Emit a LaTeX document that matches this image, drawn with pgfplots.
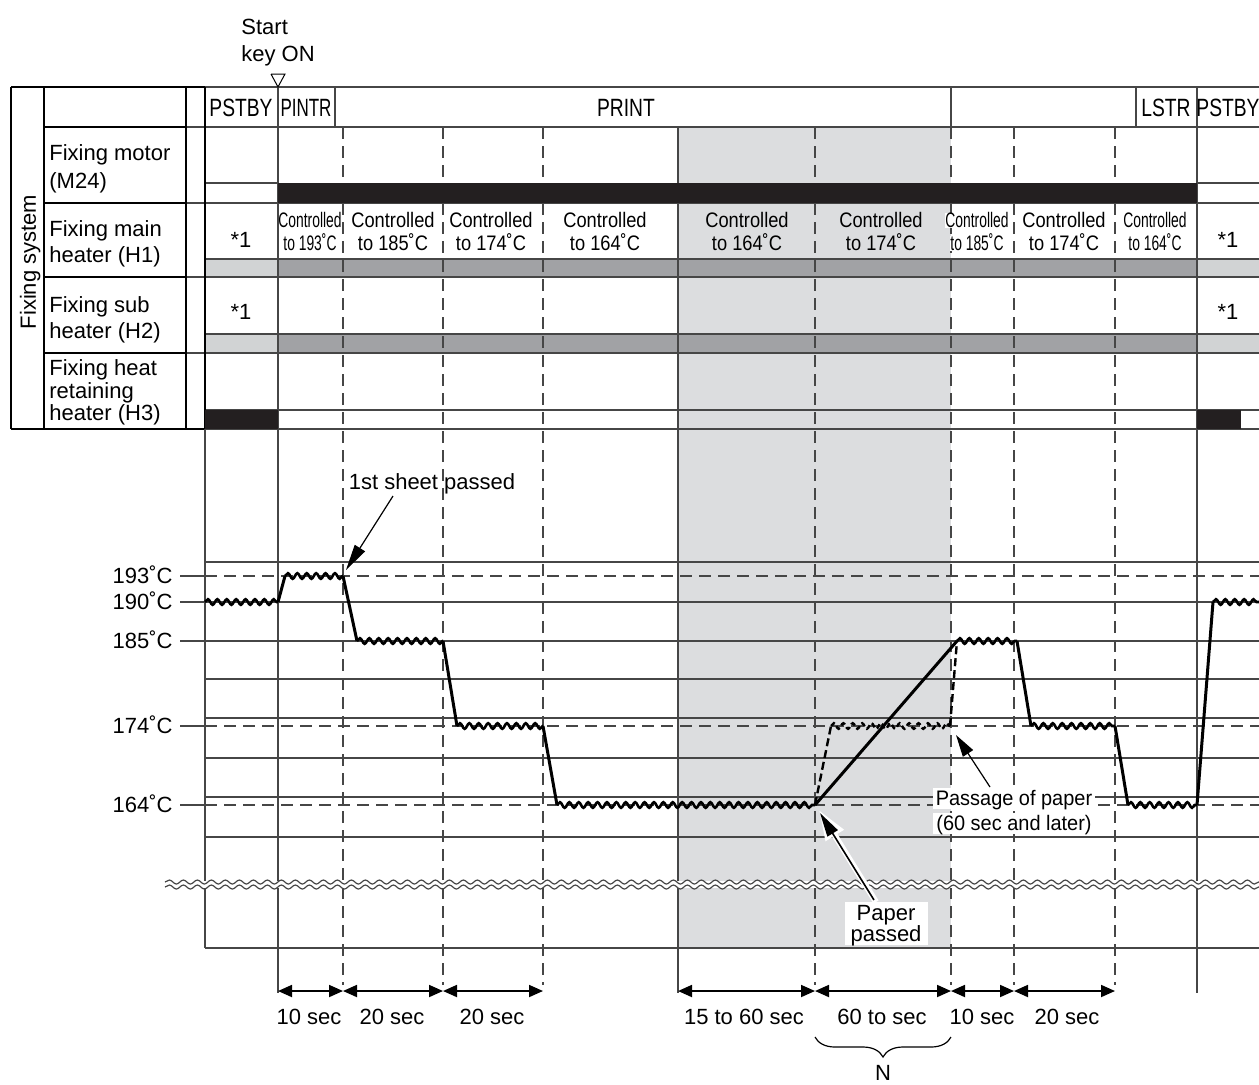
\documentclass[border=0pt]{standalone}
\usepackage{fontspec}
\setmainfont{Liberation Sans}
\usepackage{graphicx}
\usepackage{pgfplots}
\pgfplotsset{compat=1.18}
\usetikzlibrary{arrows.meta,decorations.pathmorphing,decorations.pathreplacing}

\definecolor{barblack}{HTML}{231F20}
\definecolor{bardark}{HTML}{A1A2A5}
\definecolor{barlight}{HTML}{D1D3D4}
\definecolor{shade}{HTML}{DCDDDF}
\definecolor{gridc}{HTML}{464646}

\newcommand\fs{\fontsize{11}{13}\selectfont}
\newcommand\fsm{\fontsize{10.5}{12}\selectfont}
\newcommand\fsh{\fontsize{12.5}{14}\selectfont}

\tikzset{
  gl/.style={draw=gridc, line width=0.6pt},
  tb/.style={draw=black, line width=1.1pt},
  gd/.style={draw=gridc, line width=0.6pt, dash pattern=on 6pt off 3.5pt},
  tl/.style={draw=black, line width=1.5pt},
  tw/.style={draw=black, line width=1.3pt, decorate,
    decoration={snake, amplitude=1.4pt, segment length=4.7pt}},
  twd/.style={draw=black, line width=1.2pt, dash pattern=on 2.5pt off 1.5pt, decorate,
    decoration={snake, amplitude=1.4pt, segment length=4.7pt}},
  brk/.style={draw=gridc, line width=0.6pt, decorate,
    decoration={snake, amplitude=1pt, segment length=7pt}},
  dimarr/.style={draw=black, line width=0.9pt,
    {Triangle[length=7pt,width=6pt]}-{Triangle[length=7pt,width=6pt]}},
  t/.style={font=\fs, inner sep=0pt, text height=7.9pt, text depth=0pt},
  ts/.style={font=\fsm, inner sep=0pt, text height=7.5pt, text depth=0pt},
  th/.style={font=\fsh, inner sep=0pt, text height=9pt, text depth=0pt},
}

% segment, rectangle, text
\newcommand\seg[5][gl]{\addplot[#1] coordinates {(#2,#3) (#4,#5)};}
\newcommand\rect[5]{\addplot[fill=#1, draw=none] coordinates {(#2,#3) (#4,#3) (#4,#5) (#2,#5)};}
\newcommand\lbl[4][]{\node[t, #1] at (#2,#3) {#4};}
\newcommand\hdr[3]{\node[th] at (#1,107) {\scalebox{#2}[1]{#3}};}
\newcommand\ctrl[4][]{%
  \node[ts, #1] at (#2,220) {\scalebox{#3}[1]{Controlled}};
  \node[ts, #1] at (#2,243) {\scalebox{#3}[1]{to #4˚C}};}

\begin{document}
\begin{tikzpicture}
\begin{axis}[x=0.5pt, y=0.5pt, y dir=reverse,
  xmin=0, xmax=1259, ymin=0, ymax=1084,
  hide axis, scale only axis]

% full frame, so the page keeps the whole area
\addplot[draw=none] coordinates {(0,0) (1259,0) (1259,1084) (0,1084)};

% shaded paper passage period
\rect{shade}{678}{127}{951}{948}

% heater bars
\rect{barlight}{205}{259}{278}{277}
\rect{bardark}{278}{259}{1197}{277}
\rect{barlight}{1197}{259}{1259}{277}
\rect{barlight}{205}{334}{278}{353}
\rect{bardark}{278}{334}{1197}{353}
\rect{barlight}{1197}{334}{1259}{353}

% table, horizontal
\seg{11}{87}{1259}{87}
\seg{44}{127}{1259}{127}
\seg{205}{183}{278}{183}
\seg{1197}{183}{1259}{183}
\seg{44}{203}{1259}{203}
\seg{205}{259}{1259}{259}
\seg{44}{277}{1259}{277}
\seg{205}{334}{1259}{334}
\seg{44}{353}{1259}{353}
\seg{205}{410}{1259}{410}
\seg{11}{429}{1259}{429}
\seg[tb]{11}{87}{205}{87}
\seg[tb]{44}{127}{186}{127}
\seg[tb]{44}{203}{186}{203}
\seg[tb]{44}{277}{186}{277}
\seg[tb]{44}{353}{186}{353}
\seg[tb]{11}{429}{205}{429}

% table, vertical
\seg[tb]{11}{87}{11}{429}
\seg[tb]{44}{87}{44}{429}
\seg[tb]{186}{87}{186}{429}
\seg[tb]{205}{87}{205}{429}
\seg{205}{429}{205}{948}
\seg{278}{87}{278}{993}
\seg{335}{87}{335}{127}
\seg{951}{87}{951}{127}
\seg{1136}{87}{1136}{127}
\seg{1197}{87}{1197}{993}
\seg{678}{127}{678}{993}
\seg[gd]{343}{127}{343}{985}
\seg[gd]{443}{127}{443}{985}
\seg[gd]{543}{127}{543}{985}
\seg[gd]{815}{127}{815}{985}
\seg[gd]{951}{127}{951}{985}
\seg[gd]{1014}{127}{1014}{985}
\seg[gd]{1115}{127}{1115}{985}

% motor and H3 bars
\rect{barblack}{278}{183}{1197}{203}
\rect{barblack}{205}{410}{278}{429}
\rect{barblack}{1197}{410}{1241}{429}

% temperature grid
\seg{205}{562}{1259}{562}
\seg[gd]{205}{576}{1259}{576}
\seg{205}{602}{1259}{602}
\seg{205}{641}{1259}{641}
\seg{205}{679}{1259}{679}
\seg{205}{718}{1259}{718}
\seg[gd]{205}{726}{1259}{726}
\seg{205}{758}{1259}{758}
\seg{205}{797}{1259}{797}
\seg[gd]{205}{805}{1259}{805}
\seg{205}{837}{1259}{837}
\seg{205}{948}{1259}{948}
\seg{180}{576}{205}{576}
\seg{180}{602}{205}{602}
\seg{180}{641}{205}{641}
\seg{180}{726}{205}{726}
\seg{180}{805}{205}{805}

% axis break
\rect{white}{160}{881}{1259}{888}
\addplot[brk] coordinates {(165,882) (1259,882)};
\addplot[brk] coordinates {(165,887) (1259,887)};

% fixing temperature
\addplot[tw] coordinates {(205,602) (278,602)};
\seg[tl]{278}{602}{285}{576}
\addplot[tw] coordinates {(285,576) (343,576)};
\seg[tl]{343}{576}{357}{641}
\addplot[tw] coordinates {(357,641) (443,641)};
\seg[tl]{443}{641}{457}{726}
\addplot[tw] coordinates {(457,726) (543,726)};
\seg[tl]{543}{726}{557}{805}
\addplot[tw] coordinates {(557,805) (815,805)};
\seg[tl]{815}{805}{957}{641}
\addplot[tw] coordinates {(957,641) (1017,641)};
\seg[tl]{1017}{641}{1031}{726}
\addplot[tw] coordinates {(1031,726) (1115,726)};
\seg[tl]{1115}{726}{1128}{805}
\addplot[tw] coordinates {(1128,805) (1197,805)};
\seg[tl]{1197}{805}{1213}{602}
\addplot[tw] coordinates {(1213,602) (1259,602)};
% paper passage (dashed)
\addplot[draw=black, line width=1.2pt, dash pattern=on 4pt off 2pt] coordinates {(815,805) (831,726)};
\addplot[twd] coordinates {(831,726) (950,726)};
\addplot[draw=black, line width=1.2pt, dash pattern=on 4pt off 2pt] coordinates {(950,726) (957,641)};

% start key marker
\addplot[fill=white, draw=black, line width=0.5pt] coordinates {(271,74) (285,74) (278,87) (271,74)};

% annotation arrows
\addplot[draw=black, line width=0.6pt, -{Triangle[length=13pt,width=6pt]}] coordinates {(393,496) (346,570)};
\addplot[draw=black, line width=0.6pt, -{Triangle[length=11pt,width=6pt]}] coordinates {(990,787) (956,735)};
\addplot[draw=white, line width=3pt, -{Triangle[length=15pt,width=10pt]}] coordinates {(876,902) (819,810)};
\addplot[draw=black, line width=0.8pt, -{Triangle[length=12pt,width=6pt]}] coordinates {(874,900) (820,813)};

% duration arrows
\addplot[dimarr] coordinates {(278,991) (343,991)};
\addplot[dimarr] coordinates {(343,991) (443,991)};
\addplot[dimarr] coordinates {(443,991) (543,991)};
\addplot[dimarr] coordinates {(678,991) (815,991)};
\addplot[dimarr] coordinates {(815,991) (951,991)};
\addplot[dimarr] coordinates {(951,991) (1014,991)};
\addplot[dimarr] coordinates {(1014,991) (1115,991)};
\addplot[draw=black, line width=0.6pt, decorate, decoration={brace, mirror, amplitude=10pt}] coordinates {(815,1037) (951,1037)};

% ---- text ----
\lbl[anchor=west]{241}{27}{Start}
\lbl[anchor=west]{241}{54}{key ON}

\hdr{241}{0.77}{PSTBY}
\hdr{306}{0.68}{PINTR}
\hdr{626}{0.77}{PRINT}
\hdr{1166}{0.77}{LSTR}
\hdr{1228}{0.77}{PSTBY}

\lbl[rotate=90]{28}{262}{Fixing system}
\lbl[anchor=west]{49}{153}{Fixing motor}
\lbl[anchor=west]{49}{181}{(M24)}
\lbl[anchor=west]{49}{229}{Fixing main}
\lbl[anchor=west]{49}{255}{heater (H1)}
\lbl[anchor=west]{49}{305}{Fixing sub}
\lbl[anchor=west]{49}{331}{heater (H2)}
\lbl[anchor=west]{49}{368}{Fixing heat}
\lbl[anchor=west]{49}{391}{retaining}
\lbl[anchor=west]{49}{413}{heater (H3)}

\lbl{241}{240}{*1}
\lbl{241}{312}{*1}
\lbl{1228}{240}{*1}
\lbl{1228}{312}{*1}

\ctrl{310}{0.66}{193}
\ctrl{393}{0.87}{185}
\ctrl{491}{0.87}{174}
\ctrl{605}{0.87}{164}
\ctrl{747}{0.87}{164}
\ctrl{881}{0.87}{174}
\ctrl[fill=white]{977}{0.66}{185}
\ctrl{1064}{0.87}{174}
\ctrl{1155}{0.66}{164}

\lbl[anchor=east]{173}{576}{193˚C}
\lbl[anchor=east]{173}{602}{190˚C}
\lbl[anchor=east]{173}{641}{185˚C}
\lbl[anchor=east]{173}{726}{174˚C}
\lbl[anchor=east]{173}{805}{164˚C}

\lbl{432}{482}{1st sheet passed}
\node[ts, fill=white, inner sep=1.5pt] at (1014,798) {\scalebox{0.95}[1]{Passage of paper}};
\node[ts, fill=white, inner sep=1.5pt] at (1014,823) {\scalebox{0.95}[1]{(60 sec and later)}};
\rect{white}{845}{902}{928}{945}
\lbl{886}{913}{Paper}
\lbl{886}{934}{passed}

\lbl{309}{1017}{10 sec}
\lbl{392}{1017}{20 sec}
\lbl{492}{1017}{20 sec}
\lbl{744}{1017}{15 to 60 sec}
\lbl{882}{1017}{60 to sec}
\lbl{982}{1017}{10 sec}
\lbl{1067}{1017}{20 sec}
\lbl{883}{1073}{N}

\end{axis}
\end{tikzpicture}
\end{document}
